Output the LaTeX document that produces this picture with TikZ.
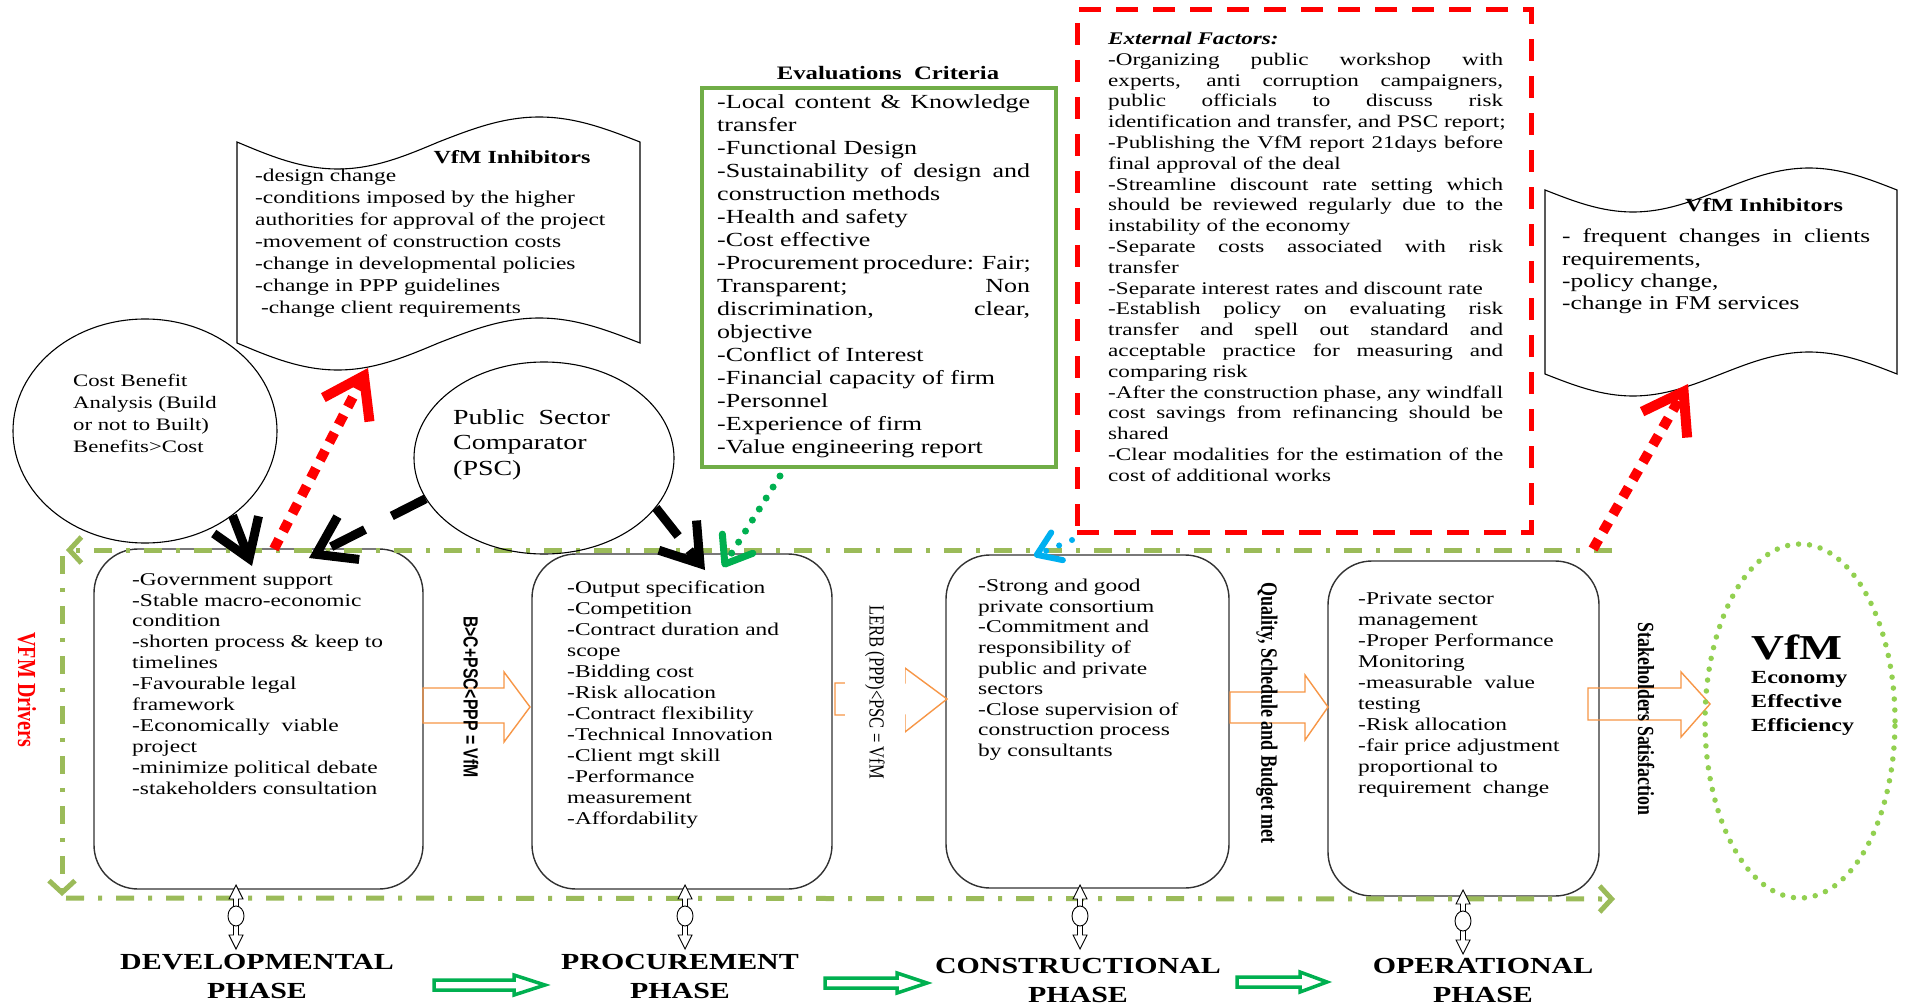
\documentclass[tikz,border=0pt]{standalone}
\usepackage{fontspec}
\setmainfont{Liberation Serif}
\newfontfamily\wideserif{Liberation Serif}[FakeStretch=1.3]
\newfontfamily\tallserif{Liberation Serif}[FakeStretch=0.77]
\newfontfamily\tallsans{Liberation Sans}[FakeStretch=0.77]
\usetikzlibrary{arrows.meta,shapes.geometric}

\definecolor{olivegreen}{RGB}{155,187,89}
\definecolor{critgreen}{RGB}{112,173,71}
\definecolor{brightgreen}{RGB}{0,176,80}
\definecolor{limegreen}{RGB}{146,208,80}
\definecolor{arroworange}{RGB}{247,150,70}
\definecolor{skyblue}{RGB}{0,176,240}
\definecolor{boxgray}{RGB}{50,50,50}

\newcommand\fsz[2]{\fontsize{#1}{#2}\selectfont}
\newcommand\jline[2]{\makebox[#1][s]{#2}}

\tikzset{
  phasebox/.style={draw=boxgray, line width=1.4pt, rounded corners=44pt, fill=white, inner sep=0pt},
  txt/.style={anchor=north west, inner sep=0pt, align=left},
  vtext/.style={rotate=-90, inner sep=0pt, anchor=center},
  phaselabel/.style={anchor=north, inner sep=0pt, align=center, font=\wideserif\bfseries\fsz{23}{29}},
  cloudline/.style={draw=black, line width=1.1pt, fill=white},
  roundshape/.style={draw=black, ellipse, line width=1.1pt, inner sep=0pt},
  blockarrow/.style={draw=arroworange, line width=1.4pt, line join=miter},
  greenarrow/.style={draw=brightgreen, line width=3.5pt, fill=white, line join=miter},
  frameline/.style={draw=olivegreen, line width=5pt, dash pattern=on 18pt off 14pt on 4pt off 14pt, -{Straight Barb[length=12pt,width=26pt]}},
  blackarrow/.style={draw=black, line width=9pt, -{Straight Barb[length=36pt,width=48pt]}},
  redarrow/.style={draw=red, line width=10pt, dash pattern=on 11pt off 9pt, -{Straight Barb[length=38pt,width=52pt]}},
  linkarrow/.pic={
    \draw[line width=0.9pt, fill=white] (0,0) -- (7,14) -- (2.5,14) -- (2.5,50) -- (7,50) -- (0,64) -- (-7,50) -- (-2.5,50) -- (-2.5,14) -- (-7,14) -- cycle;
    \draw[line width=0.9pt, fill=white] (0,31) ellipse (8 and 10);
  }
}

\begin{document}
\begin{tikzpicture}[x=1pt,y=-1pt]
\fill[white] (0,0) rectangle (1910,1008);
\useasboundingbox (0,0) rectangle (1910,1008);

% ---------- phase boxes ----------
\node[phasebox, minimum width=329pt, minimum height=340pt] (dev) at (258.5,719) {};
\node[phasebox, minimum width=300pt, minimum height=335pt] (proc) at (682,721.5) {};
\node[phasebox, minimum width=283pt, minimum height=333pt] (constr) at (1087.5,721.5) {};
\node[phasebox, minimum width=271pt, minimum height=335pt] (oper) at (1463.5,728.5) {};

\node[txt, font=\wideserif\fsz{18}{20.9}] (devtxt) at (132,573) {-Government support\\-Stable macro-economic\\condition\\-shorten process \& keep to\\timelines\\-Favourable legal\\framework\\-Economically\ \ viable\\project\\-minimize political debate\\-stakeholders consultation};
\node[txt, font=\wideserif\fsz{18}{21}] (proctxt) at (567,581) {-Output specification\\-Competition\\-Contract duration and\\scope\\-Bidding cost\\-Risk allocation\\-Contract flexibility\\-Technical Innovation\\-Client mgt skill\\-Performance\\measurement\\-Affordability};
\node[txt, font=\wideserif\fsz{18}{20.6}] (constrtxt) at (978,579) {-Strong and good\\private consortium\\-Commitment and\\responsibility of\\public and private\\sectors\\-Close supervision of\\construction process\\by consultants};
\node[txt, font=\wideserif\fsz{18}{21}] (opertxt) at (1358,592) {-Private sector\\management\\-Proper Performance\\Monitoring\\-measurable\ \ value\\testing\\-Risk allocation\\-fair price adjustment\\proportional to\\requirement\ \ change};

% ---------- hollow block arrows between the phases ----------
\draw[blockarrow] (423,688) -- (504,688) -- (504,672) -- (530,707) -- (504,742) -- (504,723) -- (423,723) -- cycle;
\draw[blockarrow] (835,683) -- (905,683) -- (905,668) -- (947,699) -- (905,732) -- (905,715) -- (835,715) -- cycle;
\draw[blockarrow] (1230,692) -- (1305,692) -- (1305,675) -- (1328,707) -- (1305,740) -- (1305,723) -- (1230,723) -- cycle;
\draw[blockarrow] (1588,688) -- (1681,688) -- (1681,672) -- (1710,704) -- (1681,737) -- (1681,720) -- (1588,720) -- cycle;

% ---------- vertical conditions ----------
\node[vtext, font=\tallsans\bfseries\fsz{20.5}{24}] (bcrit) at (471,697) {B>C+PSC<PPP = VfM};
\node[vtext, font=\tallserif\fsz{21.5}{25}, fill=white, inner ysep=20pt] (lerb) at (875,692) {LERB (PPP)<PSC = VfM};
\node[vtext, font=\tallserif\bfseries\fsz{23.4}{27}] (qsb) at (1267,713) {Quality, Schedule and Budget met};
\node[vtext, font=\tallserif\bfseries\fsz{23.1}{27}] (stake) at (1646,719) {Stakeholders Satisfaction};
\node[vtext, font=\tallserif\bfseries\fsz{26}{30}, text=red] (drivers) at (27,690) {VFM Drivers};

% ---------- dash-dot driver frame ----------
\coordinate (ftr) at (1612,550);
\coordinate (ftl) at (66,550);
\coordinate (fla) at (62,556);
\coordinate (flb) at (62,896);
\coordinate (fba) at (66,898);
\coordinate (fbb) at (1615,899);
\draw[frameline] (ftr) -- (ftl);
\draw[frameline] (fla) -- (flb);
\draw[frameline] (fba) -- (fbb);

% ---------- links to the phase names ----------
\pic at (236,885) {linkarrow};
\pic at (685,885) {linkarrow};
\pic at (1080,885) {linkarrow};
\pic at (1463,890) {linkarrow};

\node[phaselabel] (devlbl) at (257,954) {DEVELOPMENTAL\\PHASE};
\node[phaselabel] (proclbl) at (680,954) {PROCUREMENT\\PHASE};
\node[phaselabel] (constrlbl) at (1078,958) {CONSTRUCTIONAL\\PHASE};
\node[phaselabel] (operlbl) at (1483,958) {OPERATIONAL\\PHASE};

\draw[greenarrow] (434,980) -- (514,980) -- (514,975) -- (545,985) -- (514,995) -- (514,990) -- (434,990) -- cycle;
\draw[greenarrow] (825,978) -- (897,978) -- (897,973) -- (927,983) -- (897,993) -- (897,988) -- (825,988) -- cycle;
\draw[greenarrow] (1237,977) -- (1300,977) -- (1300,972) -- (1327,982) -- (1300,992) -- (1300,987) -- (1237,987) -- cycle;

% ---------- VfM outcome ----------
\node[ellipse, draw=limegreen, line width=5.5pt, dash pattern=on 0pt off 11pt, line cap=round, minimum width=190pt, minimum height=354pt, inner sep=0pt] (vfm) at (1800,721) {};
\node[anchor=base west, inner sep=0pt, font=\wideserif\bfseries\fsz{35}{40}] (vfmtitle) at (1751,659) {VfM};
\node[txt, font=\wideserif\bfseries\fsz{18.5}{24}] (vfmtxt) at (1751,671) {Economy\\Effective\\Efficiency};

% ---------- inhibitors (left) ----------
\draw[cloudline] (237,142) sin (337.75,169) cos (438.5,142) sin (539.25,117) cos (640,142) -- (640,343) sin (539.25,318) cos (438.5,343) sin (337.75,370) cos (237,343) -- cycle;
\node[anchor=base, inner sep=0pt, font=\wideserif\bfseries\fsz{18.5}{22}] (inh1title) at (512,164) {VfM Inhibitors};
\node[txt, font=\wideserif\fsz{18}{22}] (inh1txt) at (255,169) {-design change\\-conditions imposed by the higher\\authorities for approval of the project\\-movement of construction costs\\-change in developmental policies\\-change in PPP guidelines\\\ -change client requirements};

% ---------- cost benefit and PSC ----------
\node[roundshape, minimum width=264pt, minimum height=224pt] (cba) at (145,431) {};
\node[txt, font=\wideserif\fsz{17.5}{22}] (cbatxt) at (73,374) {Cost Benefit\\Analysis (Build\\or not to Built)\\Benefits>Cost};
\node[roundshape, minimum width=260pt, minimum height=192pt] (psc) at (544,458) {};
\node[txt, font=\wideserif\fsz{21.5}{25.5}] (psctxt) at (453,409) {Public\ \ Sector\\Comparator\\(PSC)};

% ---------- evaluation criteria ----------
\node[draw=critgreen, line width=3.5pt, minimum width=354pt, minimum height=379pt, inner sep=0pt] (crit) at (879,277.5) {};
\node[anchor=base, inner sep=0pt, font=\wideserif\bfseries\fsz{19}{22}] (crittitle) at (888,80) {Evaluations\ \ Criteria};
\node[txt, font=\wideserif\fsz{20}{23}] (crittxt) at (717,94) {%
\jline{313pt}{-Local content \& Knowledge}\\
transfer\\
-Functional Design\\
\jline{313pt}{-Sustainability of design and}\\
construction methods\\
-Health and safety\\
-Cost effective\\
\jline{313pt}{-Procurement procedure: Fair;}\\
\jline{313pt}{Transparent; Non}\\
\jline{313pt}{discrimination, clear,}\\
objective\\
-Conflict of Interest\\
-Financial capacity of firm\\
-Personnel\\
-Experience of firm\\
-Value engineering report};

% ---------- external factors ----------
\node[draw=red, line width=5pt, dash pattern=on 22pt off 15pt, minimum width=454pt, minimum height=522pt, inner sep=0pt] (ext) at (1304,271) {};
\node[txt, font=\wideserif\fsz{17.8}{20.8}] (exttxt) at (1108,32) {%
\textbf{\textit{External Factors:}}\\
\jline{395pt}{-Organizing public workshop with}\\
\jline{395pt}{experts, anti corruption campaigners,}\\
\jline{395pt}{public officials to discuss risk}\\
identification and transfer, and PSC report;\\
\jline{395pt}{-Publishing the VfM report 21days before}\\
final approval of the deal\\
\jline{395pt}{-Streamline discount rate setting which}\\
\jline{395pt}{should be reviewed regularly due to the}\\
instability of the economy\\
\jline{395pt}{-Separate costs associated with risk}\\
transfer\\
-Separate interest rates and discount rate\\
\jline{395pt}{-Establish policy on evaluating risk}\\
\jline{395pt}{transfer and spell out standard and}\\
\jline{395pt}{acceptable practice for measuring and}\\
comparing risk\\
\jline{395pt}{-After the construction phase, any windfall}\\
\jline{395pt}{cost savings from refinancing should be}\\
shared\\
\jline{395pt}{-Clear modalities for the estimation of the}\\
cost of additional works};

% ---------- inhibitors (right) ----------
\draw[cloudline] (1545,190) sin (1633,212) cos (1721,190) sin (1809,168) cos (1897,190) -- (1897,374) sin (1809,352) cos (1721,374) sin (1633,396) cos (1545,374) -- cycle;
\node[anchor=base, inner sep=0pt, font=\wideserif\bfseries\fsz{18.6}{22}] (inh2title) at (1764,212) {VfM Inhibitors};
\node[txt, font=\wideserif\fsz{19.5}{22.3}] (inh2txt) at (1562,229) {\jline{308pt}{- frequent changes in clients}\\requirements,\\-policy change,\\-change in FM services};

% ---------- connectors ----------
\coordinate (tipA) at (252,566);
\coordinate (tipB) at (309,558);
\coordinate (tipC) at (705,570);
\draw[blackarrow] (cba.-44) -- (tipA);
\draw[blackarrow, dash pattern=on 38pt off 30pt] (psc.199) -- (tipB);
\draw[blackarrow, dash pattern=on 36pt off 18pt] (psc.-24) -- (tipC);

\coordinate (r1s) at (274,549);
\coordinate (r1e) at (368,368);
\coordinate (r2s) at (1593,549);
\coordinate (r2e) at (1688,384);
\draw[redarrow] (r1s) -- (r1e);
\draw[redarrow] (r2s) -- (r2e);

\coordinate (g1s) at (780,476);
\coordinate (g1e) at (723,567);
\draw[draw=brightgreen, line width=7pt, dash pattern=on 0pt off 13pt, line cap=round, -{Straight Barb[round,length=24pt,width=36pt]}] (g1s) -- (g1e);

\coordinate (c1s) at (1072,540);
\coordinate (c1e) at (1034,556);
\draw[draw=skyblue, line width=6pt, dash pattern=on 0pt off 14pt, line cap=round, -{Straight Barb[round,length=22pt,width=30pt]}] (c1s) -- (c1e);
\end{tikzpicture}
\end{document}
